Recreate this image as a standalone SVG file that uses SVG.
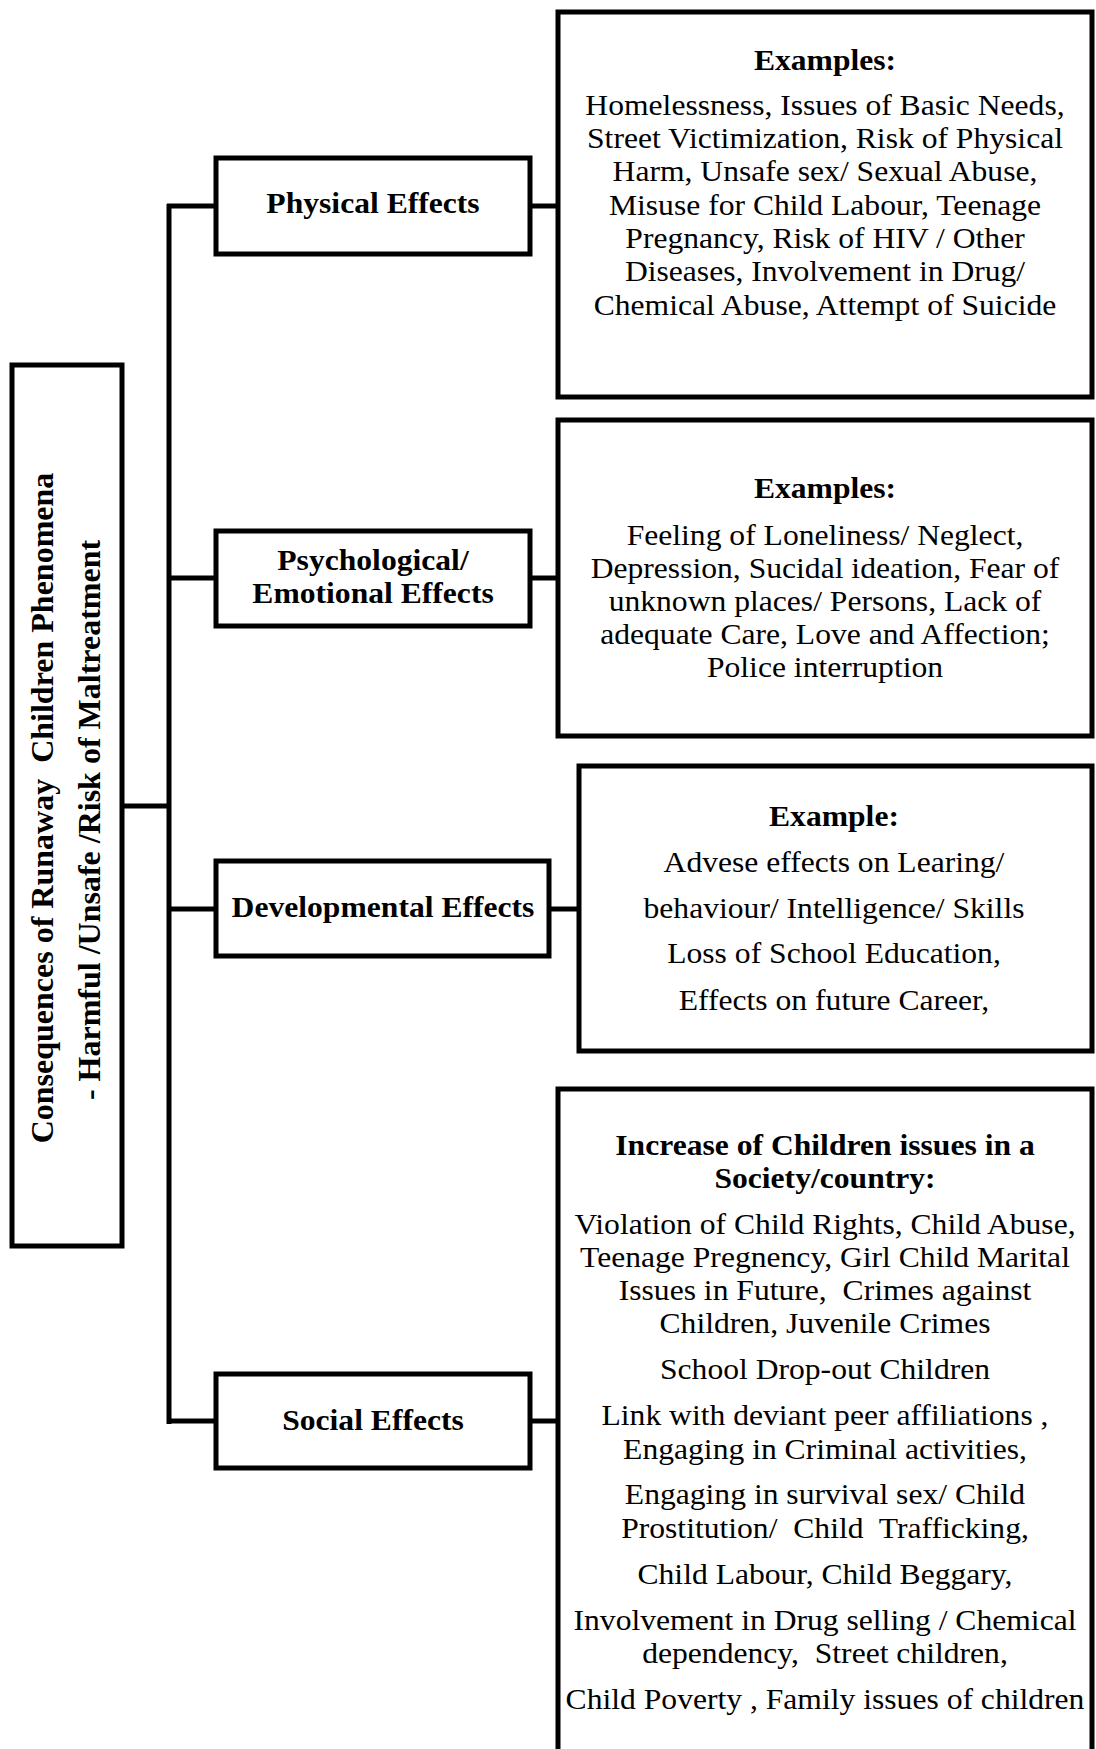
<svg xmlns="http://www.w3.org/2000/svg" width="1096" height="1749" viewBox="0 0 1096 1749">
<style>
.box{fill:#fff;stroke:#000;stroke-width:5}
.conn{stroke:#000;stroke-width:5;fill:none}
.t{font-family:"Liberation Serif","Times New Roman",serif;font-size:29px;text-anchor:middle;fill:#000;white-space:pre}
.b{font-weight:bold}
.v{font-family:"Liberation Serif","Times New Roman",serif;font-size:32px;font-weight:bold;text-anchor:middle;fill:#000;white-space:pre}
</style>
<rect width="1096" height="1749" fill="#fff"/>
<g id="connectors">
<line class="conn" x1="122" y1="806" x2="169" y2="806"/>
<line class="conn" x1="169" y1="204" x2="169" y2="1424"/>
<line class="conn" x1="167" y1="206" x2="216" y2="206"/>
<line class="conn" x1="167" y1="578" x2="216" y2="578"/>
<line class="conn" x1="167" y1="909" x2="216" y2="909"/>
<line class="conn" x1="167" y1="1421" x2="216" y2="1421"/>
<line class="conn" x1="530" y1="206" x2="558" y2="206"/>
<line class="conn" x1="530" y1="578" x2="558" y2="578"/>
<line class="conn" x1="549" y1="909" x2="579" y2="909"/>
<line class="conn" x1="530" y1="1421" x2="558" y2="1421"/>
</g>
<g id="main">
<rect class="box" x="12" y="365" width="110" height="881"/>
<text class="v" xml:space="preserve" transform="translate(53,808) rotate(-90)">Consequences of Runaway  Children Phenomena</text>
<text class="v" transform="translate(100,820) rotate(-90)">- Harmful /Unsafe /Risk of Maltreatment</text>
</g>
<g id="physical">
<rect class="box" x="216" y="158" width="314" height="96"/>
<g transform="translate(373,0) scale(1.09,1)"><text class="t b" y="213">Physical Effects</text></g>
</g>
<g id="psychological">
<rect class="box" x="216" y="531" width="314" height="95"/>
<g transform="translate(373,0) scale(1.09,1)"><text class="t b" y="570">Psychological/</text><text class="t b" y="603">Emotional Effects</text></g>
</g>
<g id="developmental">
<rect class="box" x="216" y="861" width="333" height="95"/>
<g transform="translate(383,0) scale(1.09,1)"><text class="t b" y="917">Developmental Effects</text></g>
</g>
<g id="social">
<rect class="box" x="216" y="1374" width="314" height="94"/>
<g transform="translate(373,0) scale(1.09,1)"><text class="t b" y="1430">Social Effects</text></g>
</g>
<g id="physical-examples">
<rect class="box" x="558" y="12" width="534" height="385"/>
<g transform="translate(825,0) scale(1.09,1)">
<text class="t b" y="70">Examples:</text>
<text class="t" y="115">Homelessness, Issues of Basic Needs,</text>
<text class="t" y="148">Street Victimization, Risk of Physical</text>
<text class="t" y="181">Harm, Unsafe sex/ Sexual Abuse,</text>
<text class="t" y="215">Misuse for Child Labour, Teenage</text>
<text class="t" y="248">Pregnancy, Risk of HIV / Other</text>
<text class="t" y="281">Diseases, Involvement in Drug/</text>
<text class="t" y="315">Chemical Abuse, Attempt of Suicide</text>
</g>
</g>
<g id="psychological-examples">
<rect class="box" x="558" y="420" width="534" height="316"/>
<g transform="translate(825,0) scale(1.09,1)">
<text class="t b" y="498">Examples:</text>
<text class="t" y="545">Feeling of Loneliness/ Neglect,</text>
<text class="t" y="578">Depression, Sucidal ideation, Fear of</text>
<text class="t" y="611">unknown places/ Persons, Lack of</text>
<text class="t" y="644">adequate Care, Love and Affection;</text>
<text class="t" y="677">Police interruption</text>
</g>
</g>
<g id="developmental-examples">
<rect class="box" x="579" y="766" width="513" height="285"/>
<g transform="translate(834,0) scale(1.09,1)">
<text class="t b" y="826">Example:</text>
<text class="t" y="872">Advese effects on Learing/</text>
<text class="t" y="918">behaviour/ Intelligence/ Skills</text>
<text class="t" y="963">Loss of School Education,</text>
<text class="t" y="1010">Effects on future Career,</text>
</g>
</g>
<g id="social-examples">
<rect class="box" x="558" y="1089" width="534" height="700"/>
<g transform="translate(825,0) scale(1.09,1)">
<text class="t b" y="1155">Increase of Children issues in a</text>
<text class="t b" y="1188">Society/country:</text>
<text class="t" y="1234">Violation of Child Rights, Child Abuse,</text>
<text class="t" y="1267">Teenage Pregnency, Girl Child Marital</text>
<text class="t" xml:space="preserve" y="1300">Issues in Future,  Crimes against</text>
<text class="t" y="1333">Children, Juvenile Crimes</text>
<text class="t" y="1379">School Drop-out Children</text>
<text class="t" y="1425">Link with deviant peer affiliations ,</text>
<text class="t" y="1459">Engaging in Criminal activities,</text>
<text class="t" y="1504">Engaging in survival sex/ Child</text>
<text class="t" xml:space="preserve" y="1538">Prostitution/  Child  Trafficking,</text>
<text class="t" y="1584">Child Labour, Child Beggary,</text>
<text class="t" y="1630">Involvement in Drug selling / Chemical</text>
<text class="t" xml:space="preserve" y="1663">dependency,  Street children,</text>
<text class="t" y="1709">Child Poverty , Family issues of children</text>
</g>
</g>
</svg>
